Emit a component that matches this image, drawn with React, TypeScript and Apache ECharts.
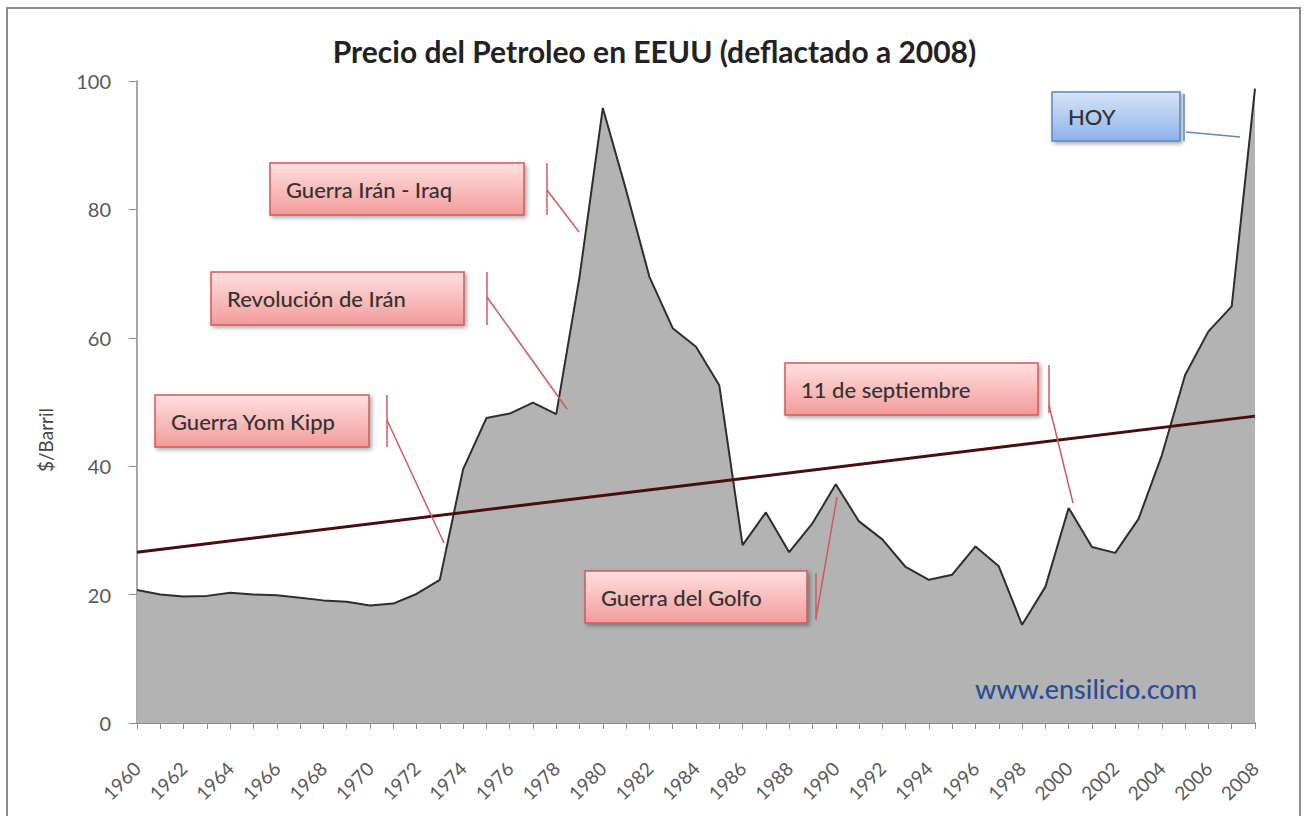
import React, { useEffect, useRef } from "react";
import * as echarts from "echarts";

const years: string[] = [];
for (let y = 1960; y <= 2008; y++) years.push(String(y));

// US crude oil price, deflated to 2008 dollars ($/barrel)
const price: number[] = [
  20.7, 20.0, 19.7, 19.8, 20.3, 20.0, 19.9, 19.5, 19.1, 18.9,
  18.3, 18.6, 20.1, 22.3, 39.5, 47.5, 48.2, 49.9, 48.1, 69.5,
  95.8, 83.0, 69.5, 61.5, 58.6, 52.6, 27.7, 32.8, 26.6, 31.1,
  37.2, 31.4, 28.6, 24.3, 22.3, 23.1, 27.5, 24.4, 15.3, 21.2,
  33.5, 27.4, 26.5, 31.8, 41.7, 54.2, 61.0, 64.9, 98.8,
];

// linear trend line end points
const trendStart = 26.6;
const trendEnd = 47.8;

const yTicks = { min: 0, max: 100, interval: 20 };

const FONT = "Lato, 'Open Sans', sans-serif";

type Note = {
  text: string;
  box: [number, number, number, number];
  tick: [number, number, number];
  leader: [number, number, number, number];
  blue?: boolean;
};

const notes: Note[] = [
  { text: "Guerra Irán - Iraq", box: [270, 163, 254, 52], tick: [547, 163, 215], leader: [547, 190, 579, 232] },
  { text: "Revolución de Irán", box: [211, 272, 253, 53], tick: [487, 272, 325], leader: [487, 297, 567, 409] },
  { text: "Guerra Yom Kipp", box: [155, 395, 214, 52], tick: [387, 395, 447], leader: [387, 420, 444, 543] },
  { text: "11 de septiembre", box: [785, 363, 253, 52], tick: [1049, 365, 413], leader: [1049, 405, 1073, 503] },
  { text: "Guerra del Golfo", box: [585, 571, 222, 52], tick: [816, 573, 620], leader: [816, 618, 837, 497] },
  { text: "HOY", box: [1052, 92, 128, 49], tick: [1184, 94, 141], leader: [1186, 132, 1240, 137], blue: true },
];

function buildGraphics() {
  const els: any[] = [];
  // outer frame
  els.push({
    type: "rect",
    shape: { x: 7, y: 8, width: 1293, height: 830 },
    style: { fill: "none", stroke: "#8c8c8c", lineWidth: 2 },
    z: 0,
    silent: true,
  });
  // y axis title
  els.push({
    type: "text",
    x: 45,
    y: 440,
    rotation: Math.PI / 2,
    style: {
      text: "$/Barril",
      fill: "#444",
      font: `19px ${FONT}`,
      align: "center",
      verticalAlign: "middle",
    },
    z: 100,
  });
  notes.forEach((n) => {
    const [x, y, w, h] = n.box;
    const fill = n.blue
      ? new echarts.graphic.LinearGradient(0, 0, 0, 1, [
          { offset: 0, color: "#d6e4f8" },
          { offset: 1, color: "#8db3ea" },
        ])
      : new echarts.graphic.LinearGradient(0, 0, 0, 1, [
          { offset: 0, color: "#ffe0e0" },
          { offset: 1, color: "#f39a9a" },
        ]);
    const stroke = n.blue ? "#5b87c5" : "#d25a5a";
    els.push({
      type: "rect",
      shape: { x, y, width: w, height: h },
      style: {
        fill,
        stroke,
        lineWidth: 1.5,
        shadowBlur: 4,
        shadowColor: "rgba(0,0,0,0.35)",
        shadowOffsetX: 2,
        shadowOffsetY: 2,
      },
      z: 100,
    });
    els.push({
      type: "text",
      x: x + 16,
      y: y + h / 2,
      style: {
        text: n.text,
        fill: "#333",
        font: `500 22px ${FONT}`,
        verticalAlign: "middle",
        align: "left",
      },
      z: 101,
    });
    els.push({
      type: "line",
      shape: { x1: n.tick[0], y1: n.tick[1], x2: n.tick[0], y2: n.tick[2] },
      style: { stroke, lineWidth: 1.5 },
      z: 100,
    });
    els.push({
      type: "line",
      shape: { x1: n.leader[0], y1: n.leader[1], x2: n.leader[2], y2: n.leader[3] },
      style: { stroke, lineWidth: 1.5 },
      z: 100,
    });
  });
  els.push({
    type: "text",
    x: 1086,
    y: 688,
    style: {
      text: "www.ensilicio.com",
      fill: "#2a4f96",
      font: `500 27px ${FONT}`,
      align: "center",
      verticalAlign: "middle",
    },
    z: 100,
  });
  return els;
}

export default function App() {
  const ref = useRef<HTMLDivElement>(null);
  useEffect(() => {
    if (!ref.current) return;
    const chart = echarts.init(ref.current, null, { renderer: "svg" });
    chart.setOption({
      animation: false,
      backgroundColor: "#ffffff",
      title: {
        text: "Precio del Petroleo en EEUU (deflactado a 2008)",
        left: "center",
        top: 31,
        textStyle: { fontFamily: FONT, fontSize: 30, fontWeight: "bold", color: "#222" },
      },
      grid: { left: 137, right: 54, top: 81, bottom: 93 },
      xAxis: {
        type: "category",
        data: years,
        boundaryGap: false,
        axisLine: { lineStyle: { color: "#8c8c8c", width: 2 } },
        axisTick: { interval: 0, length: 6, lineStyle: { color: "#8c8c8c", width: 1 } },
        axisLabel: {
          interval: 1,
          rotate: 45,
          color: "#595959",
          fontFamily: FONT,
          fontSize: 19,
          margin: 42,
        },
        splitLine: { show: false },
      },
      yAxis: {
        type: "value",
        min: yTicks.min,
        max: yTicks.max,
        interval: yTicks.interval,
        axisLine: { show: true, lineStyle: { color: "#8c8c8c", width: 1.5 } },
        axisTick: { show: true, length: 8, lineStyle: { color: "#8c8c8c" } },
        axisLabel: { color: "#595959", fontFamily: FONT, fontSize: 20, margin: 26 },
        splitLine: { show: false },
      },
      series: [
        {
          name: "Precio",
          type: "line",
          data: price,
          symbol: "none",
          lineStyle: { color: "#2e2e2e", width: 2 },
          areaStyle: { color: "#b3b3b3", opacity: 1 },
          z: 2,
        },
        {
          name: "Tendencia",
          type: "line",
          data: [
            [years[0], trendStart],
            [years[years.length - 1], trendEnd],
          ],
          symbol: "none",
          lineStyle: { color: "#4a0d0d", width: 3 },
          z: 3,
        },
      ],
      graphic: buildGraphics(),
    });
    return () => chart.dispose();
  }, []);
  return (
    <div
      ref={ref}
      style={{ position: "fixed", left: 0, top: 0, width: 1309, height: 816 }}
    />
  );
}
